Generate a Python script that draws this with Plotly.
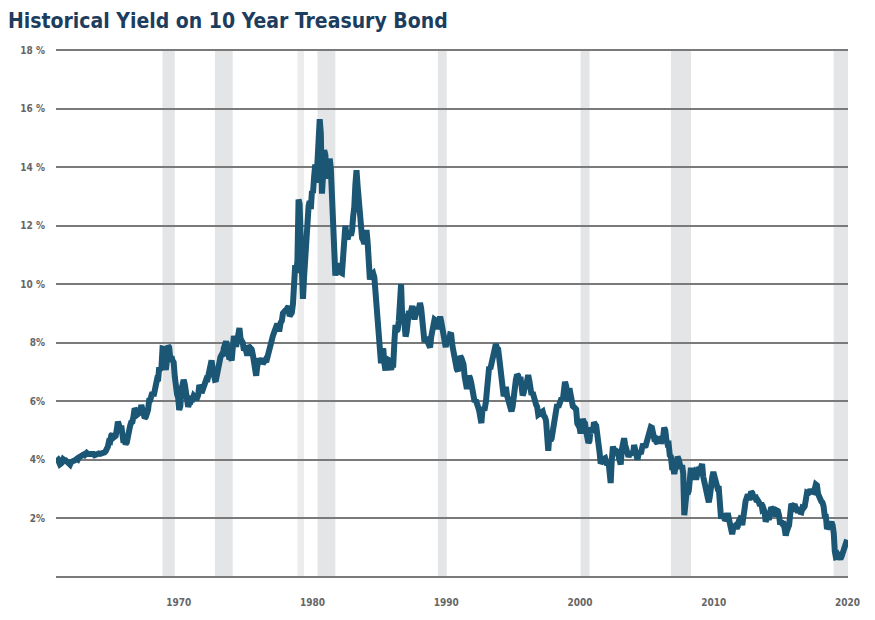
"""Historical yield on the 10 year Treasury bond, 1962-2021, with recession bands."""
import pandas as pd
import plotly.graph_objects as go

# ── monthly 10-year yields (%) ──
y1960s = [
    4.08, 4.04, 3.93, 3.84, 3.87, 3.91, 4.01, 3.98, 3.98, 3.93, 3.92, 3.86,   # 1962
    3.83, 3.92, 3.93, 3.97, 3.93, 3.99, 4.02, 4.00, 4.08, 4.11, 4.12, 4.13,   # 1963
    4.17, 4.15, 4.22, 4.23, 4.20, 4.17, 4.19, 4.19, 4.20, 4.19, 4.15, 4.18,   # 1964
    4.19, 4.21, 4.21, 4.20, 4.21, 4.21, 4.20, 4.25, 4.29, 4.35, 4.45, 4.62,   # 1965
    4.61, 4.83, 4.87, 4.75, 4.78, 4.81, 5.02, 5.30, 5.18, 5.01, 5.16, 4.84,   # 1966
    4.58, 4.63, 4.54, 4.59, 4.85, 5.02, 5.16, 5.28, 5.30, 5.48, 5.75, 5.70,   # 1967
    5.53, 5.56, 5.74, 5.64, 5.87, 5.72, 5.50, 5.42, 5.46, 5.58, 5.70, 6.03,   # 1968
    6.04, 6.19, 6.30, 6.17, 6.32, 6.57, 6.72, 6.69, 7.16, 7.10, 7.14, 7.80,   # 1969
]
y1970s = [
    7.79, 7.24, 7.07, 7.39, 7.90, 7.84, 7.46, 7.53, 7.39, 7.33, 6.84, 6.39,   # 1970
    6.24, 6.11, 5.70, 5.83, 6.39, 6.52, 6.73, 6.58, 6.14, 5.93, 5.81, 5.93,   # 1971
    5.95, 6.08, 6.07, 6.19, 6.13, 6.11, 6.11, 6.21, 6.55, 6.48, 6.28, 6.36,   # 1972
    6.46, 6.64, 6.71, 6.67, 6.85, 6.90, 7.13, 7.40, 7.09, 6.79, 6.73, 6.74,   # 1973
    6.99, 6.96, 7.21, 7.51, 7.58, 7.54, 7.81, 8.04, 8.04, 7.90, 7.68, 7.43,   # 1974
    7.50, 7.39, 7.73, 8.23, 8.06, 7.86, 8.06, 8.40, 8.50, 8.14, 8.05, 8.00,   # 1975
    7.74, 7.79, 7.73, 7.56, 7.90, 7.86, 7.83, 7.77, 7.59, 7.41, 7.29, 6.87,   # 1976
    7.21, 7.39, 7.46, 7.37, 7.46, 7.28, 7.33, 7.40, 7.34, 7.52, 7.58, 7.69,   # 1977
    8.01, 8.19, 8.23, 8.34, 8.43, 8.50, 8.65, 8.47, 8.47, 8.69, 8.75, 9.01,   # 1978
    9.10, 9.10, 9.12, 9.18, 9.25, 8.91, 8.95, 9.03, 9.33, 10.50, 10.65, 10.39,  # 1979
]
y1980s = [
    10.80, 12.90, 12.75, 11.47, 10.18, 9.50, 10.25, 11.10, 11.51, 11.75, 12.68, 12.84,  # 1980
    12.57, 13.19, 13.12, 13.68, 14.10, 13.47, 14.28, 14.94, 15.65, 15.15, 13.10, 13.72,  # 1981
    14.59, 14.43, 13.86, 13.87, 13.62, 14.30, 13.95, 13.06, 12.34, 10.91, 10.30, 10.54,  # 1982
    10.46, 10.72, 10.51, 10.40, 10.38, 10.85, 11.38, 12.00, 11.65, 11.54, 11.69, 11.83,  # 1983
    11.67, 11.84, 12.32, 12.63, 13.41, 13.90, 13.36, 12.72, 12.52, 12.16, 11.57, 11.50,  # 1984
    11.38, 11.51, 11.86, 11.43, 10.85, 10.16, 10.31, 10.33, 10.37, 10.24, 9.78, 9.26,    # 1985
    9.19, 8.70, 7.78, 7.30, 7.71, 7.80, 7.30, 7.05, 7.45, 7.43, 7.25, 7.11,              # 1986
    7.08, 7.25, 7.25, 8.02, 8.61, 8.40, 8.45, 8.76, 9.42, 10.00, 8.86, 8.99,             # 1987
    8.67, 8.21, 8.37, 8.72, 9.09, 8.92, 9.06, 9.26, 8.98, 8.80, 8.96, 9.11,              # 1988
    9.09, 9.17, 9.36, 9.18, 8.86, 8.28, 8.02, 8.11, 8.19, 8.01, 7.87, 7.84,              # 1989
]
y1990s = [
    8.21, 8.47, 8.59, 8.79, 8.76, 8.48, 8.47, 8.75, 8.89, 8.72, 8.39, 8.08,   # 1990
    8.09, 7.85, 8.11, 8.04, 8.07, 8.28, 8.27, 7.90, 7.65, 7.53, 7.42, 7.09,   # 1991
    7.03, 7.34, 7.54, 7.48, 7.39, 7.26, 6.84, 6.59, 6.42, 6.59, 6.87, 6.77,   # 1992
    6.60, 6.26, 5.98, 5.97, 6.04, 5.96, 5.81, 5.68, 5.36, 5.25, 5.72, 5.77,   # 1993
    5.75, 5.97, 6.48, 6.97, 7.18, 7.10, 7.30, 7.24, 7.46, 7.74, 7.96, 7.81,   # 1994
    7.78, 7.47, 7.20, 7.06, 6.63, 6.17, 6.28, 6.49, 6.20, 6.04, 5.93, 5.71,   # 1995
    5.65, 5.81, 6.27, 6.51, 6.74, 6.91, 6.87, 6.64, 6.83, 6.53, 6.20, 6.30,   # 1996
    6.58, 6.42, 6.69, 6.89, 6.71, 6.49, 6.22, 6.30, 6.21, 6.03, 5.88, 5.81,   # 1997
    5.54, 5.57, 5.65, 5.64, 5.65, 5.50, 5.46, 5.34, 4.81, 4.30, 4.83, 4.65,   # 1998
    4.72, 5.00, 5.23, 5.18, 5.54, 5.90, 5.79, 5.94, 5.92, 6.11, 6.03, 6.28,   # 1999
]
y2000s = [
    6.66, 6.52, 6.26, 5.99, 6.44, 6.10, 6.05, 5.83, 5.80, 5.74, 5.72, 5.24,   # 2000
    5.16, 5.10, 4.89, 5.14, 5.39, 5.28, 5.24, 4.97, 4.73, 4.57, 4.65, 5.09,   # 2001
    5.04, 4.91, 5.28, 5.21, 5.16, 4.93, 4.65, 4.26, 3.87, 3.94, 4.05, 4.03,   # 2002
    4.05, 3.90, 3.81, 3.96, 3.57, 3.20, 3.98, 4.45, 4.27, 4.29, 4.30, 4.27,   # 2003
    4.15, 4.08, 3.83, 4.35, 4.72, 4.73, 4.50, 4.28, 4.13, 4.10, 4.19, 4.23,   # 2004
    4.22, 4.17, 4.50, 4.34, 4.14, 4.00, 4.18, 4.26, 4.20, 4.46, 4.54, 4.47,   # 2005
    4.42, 4.57, 4.72, 4.99, 5.11, 5.11, 5.09, 4.88, 4.72, 4.73, 4.60, 4.56,   # 2006
    4.76, 4.72, 4.56, 4.69, 4.75, 5.10, 5.00, 4.67, 4.52, 4.53, 4.15, 4.10,   # 2007
    3.74, 3.74, 3.51, 3.68, 3.88, 4.10, 4.01, 3.89, 3.69, 3.81, 3.53, 2.10,   # 2008
    2.52, 2.87, 2.82, 2.93, 3.29, 3.72, 3.56, 3.59, 3.40, 3.39, 3.40, 3.59,   # 2009
]
y2010s = [
    3.73, 3.69, 3.73, 3.85, 3.42, 3.20, 3.01, 2.70, 2.65, 2.54, 2.76, 3.29,   # 2010
    3.39, 3.58, 3.41, 3.46, 3.17, 3.00, 3.00, 2.30, 1.98, 2.15, 2.01, 1.98,   # 2011
    1.97, 1.97, 2.17, 2.05, 1.80, 1.62, 1.45, 1.68, 1.72, 1.75, 1.65, 1.72,   # 2012
    1.91, 1.98, 1.96, 1.76, 1.93, 2.30, 2.58, 2.74, 2.81, 2.62, 2.72, 2.90,   # 2013
    2.86, 2.71, 2.72, 2.71, 2.56, 2.60, 2.54, 2.42, 2.53, 2.30, 2.33, 2.21,   # 2014
    1.88, 1.98, 2.04, 1.94, 2.20, 2.36, 2.32, 2.17, 2.17, 2.07, 2.26, 2.24,   # 2015
    2.09, 1.78, 1.89, 1.81, 1.81, 1.64, 1.40, 1.56, 1.63, 1.76, 2.14, 2.49,   # 2016
    2.43, 2.42, 2.48, 2.30, 2.30, 2.19, 2.32, 2.21, 2.20, 2.36, 2.35, 2.40,   # 2017
    2.58, 2.86, 2.84, 2.87, 2.98, 2.91, 2.89, 2.89, 3.00, 3.15, 3.12, 2.83,   # 2018
    2.71, 2.68, 2.57, 2.53, 2.40, 2.07, 2.06, 1.63, 1.70, 1.71, 1.81, 1.86,   # 2019
]
y2020s = [
    1.76, 1.50, 0.87, 0.66, 0.67, 0.73, 0.62, 0.60, 0.68, 0.79, 0.87, 0.93,   # 2020
    1.08, 1.26,                                                               # 2021
]
yields = y1960s + y1970s + y1980s + y1990s + y2000s + y2010s + y2020s
dates = pd.date_range('1962-01-01', periods=len(yields), freq='MS')

# NBER recessions (start, end) as shaded on the chart
rec_start = ['1969-12-01', '1973-11-01', '1980-01-01', '1981-07-01',
             '1990-07-01', '2001-03-01', '2007-12-01', '2020-02-01']
rec_end   = ['1970-11-01', '1975-03-01', '1980-07-01', '1982-11-01',
             '1991-03-01', '2001-11-01', '2009-06-01', '2021-02-25']

ytick_vals = [0, 2, 4, 6, 8, 10, 12, 14, 16, 18]
ytick_text = ['', '2%', '4%', '6%', '8%', '10 %', '12 %', '14 %', '16 %', '18 %']
xtick_vals = ['1970-01-01', '1980-01-01', '1990-01-01', '2000-01-01', '2010-01-01', '2020-01-01']
xtick_text = ['1970', '1980', '1990', '2000', '2010', '2020']

NAVY = '#1d3d5e'
LINE = '#1b5675'
COND = 'DejaVu Sans Condensed'
TICK_FONT = dict(family=COND, size=10, color='#666666', weight='bold')

fig = go.Figure()

fig.add_trace(go.Scatter(
    x=dates, y=yields, mode='lines',
    line=dict(color=LINE, width=6),
    hovertemplate='%{x|%b %Y}: %{y:.2f}%<extra></extra>',
    showlegend=False))

# recession bands (the short 1980 one is paler)
for s, e in zip(rec_start, rec_end):
    fig.add_shape(type='rect', xref='x', yref='y domain',
                  x0=s, x1=e, y0=0, y1=1,
                  fillcolor='#ececec' if s.startswith('1980') else '#e4e5e7',
                  line_width=0, layer='below')

# page body adds an 8px margin, so the figure is drawn 8px smaller
fig.update_layout(
    width=867, height=612,
    margin=dict(l=47, r=27, t=41, b=37),
    paper_bgcolor='white', plot_bgcolor='white',
    title=dict(text='<b>Historical Yield on 10 Year Treasury Bond</b>',
               font=dict(family=COND, size=21, color=NAVY),
               x=0, xref='container', xanchor='left', pad=dict(l=0, t=0),
               y=1 - 13 / 612, yref='container', yanchor='middle'),
    xaxis=dict(range=['1961-12-15', '2021-02-25'], showgrid=False, zeroline=False,
               tickmode='array', tickvals=xtick_vals, ticktext=xtick_text,
               tickfont=TICK_FONT, ticks='', ticklabelstandoff=17, ticklabelshift=15),
    yaxis=dict(range=[-0.05, 18.05], tickmode='array', tickvals=ytick_vals,
               ticktext=ytick_text, tickfont=TICK_FONT, showgrid=True,
               gridcolor='#7a7a7a', gridwidth=2, zeroline=False, ticks='',
               ticklabelstandoff=10),
)

fig.write_html('out.html')
